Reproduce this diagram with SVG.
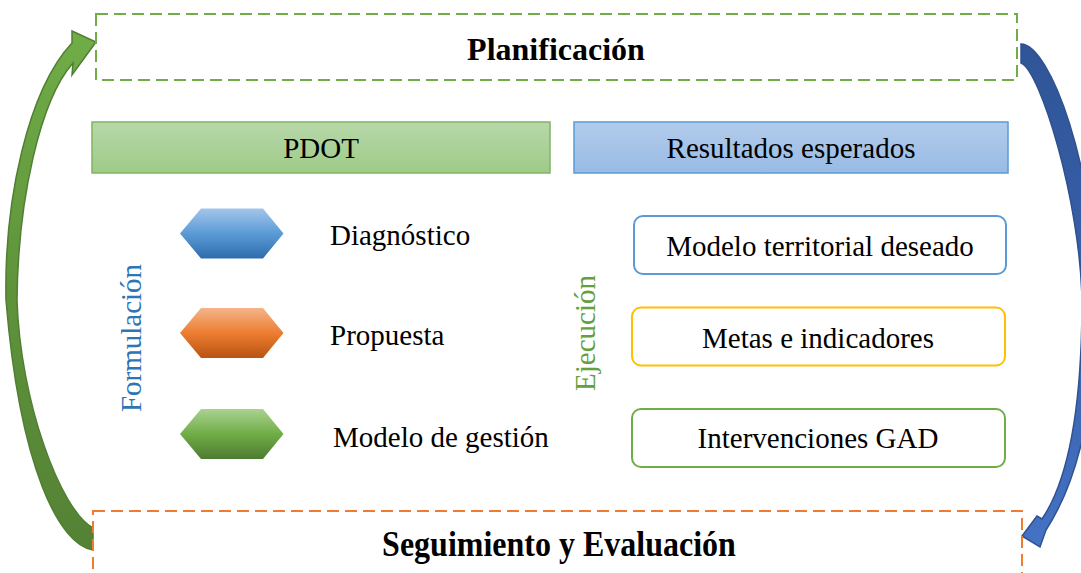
<svg xmlns="http://www.w3.org/2000/svg" width="1081" height="573" viewBox="0 0 1081 573">
<defs>
<linearGradient id="gPdot" x1="0" y1="0" x2="0" y2="1"><stop offset="0" stop-color="#B7D8A9"/><stop offset="1" stop-color="#9ECB87"/></linearGradient>
<linearGradient id="gRes" x1="0" y1="0" x2="0" y2="1"><stop offset="0" stop-color="#B3CBEB"/><stop offset="1" stop-color="#98BBE4"/></linearGradient>
<linearGradient id="hBlue" x1="0" y1="0" x2="0" y2="1"><stop offset="0" stop-color="#A3C5EA"/><stop offset="0.5" stop-color="#5B9BD5"/><stop offset="1" stop-color="#2E6CAD"/></linearGradient>
<linearGradient id="hOrange" x1="0" y1="0" x2="0" y2="1"><stop offset="0" stop-color="#F5B48A"/><stop offset="0.5" stop-color="#ED7D31"/><stop offset="1" stop-color="#B95412"/></linearGradient>
<linearGradient id="hGreen" x1="0" y1="0" x2="0" y2="1"><stop offset="0" stop-color="#AAD291"/><stop offset="0.5" stop-color="#70AD47"/><stop offset="1" stop-color="#4E7B31"/></linearGradient>
<linearGradient id="aGreen" x1="0" y1="0" x2="0" y2="1"><stop offset="0" stop-color="#70AD47"/><stop offset="0.5" stop-color="#5F933B"/><stop offset="1" stop-color="#548235"/></linearGradient>
<linearGradient id="aBlue" x1="0" y1="0" x2="0" y2="1"><stop offset="0" stop-color="#2F5597"/><stop offset="0.6" stop-color="#3B63AE"/><stop offset="1" stop-color="#4472C4"/></linearGradient>
</defs>
<style>
.title{font-family:"Liberation Serif","Times New Roman",serif;font-weight:bold;font-size:32px;fill:#000;text-anchor:middle}
.lbl{font-family:"Liberation Serif","Times New Roman",serif;font-size:29px;fill:#000}
.mid{text-anchor:middle}
.dashG{fill:none;stroke:#70AD47;stroke-width:2;stroke-dasharray:12 6}
.dashO{fill:none;stroke:#ED7D31;stroke-width:2;stroke-dasharray:12 6}
.rbox{fill:#fff;stroke-width:2}
</style>
<rect width="1081" height="573" fill="#fff"/>

<g id="connectors">
<path id="arrowGreen" d="M 93 550 C 60 545, 20 470, 6 300 C 4 200, 28 90, 72 43 L 72 31 L 96 42 L 72 75 L 73 63 C 40 100, 18 200, 17 300 C 20 400, 60 510, 93 528 Z" fill="url(#aGreen)" stroke="#507E32" stroke-width="1.5" stroke-linejoin="miter"/>
<path id="arrowBlue" d="M 1021 44 C 1050 44, 1096 170, 1096 300 C 1096 420, 1072 490, 1046 530 L 1040 547 L 1022 536 L 1037 516 L 1042 519 C 1065 485, 1082 420, 1082 300 C 1080 200, 1040 70, 1021 63 Z" fill="url(#aBlue)" stroke="#2F528F" stroke-width="1.5"/>
</g>

<g id="planificacion">
<rect x="96" y="14" width="921" height="66" class="dashG"/>
<text x="556" y="60" class="title">Planificación</text>
</g>

<g id="seguimiento">
<rect x="93" y="511" width="929" height="90" class="dashO"/>
<text x="559" y="556" class="title" transform="translate(559 556) scale(1 1.12) translate(-559 -556)">Seguimiento y Evaluación</text>
</g>

<g id="pdot">
<rect x="92" y="122" width="458" height="51" fill="url(#gPdot)" stroke="#82B366" stroke-width="1.5"/>
<text x="321" y="158" class="lbl mid">PDOT</text>
</g>

<g id="resultados">
<rect x="574" y="122" width="434" height="51" fill="url(#gRes)" stroke="#5B9BD5" stroke-width="1.5"/>
<text x="791" y="158" class="lbl mid">Resultados esperados</text>
</g>

<g id="formulacion">
<text transform="translate(141 338) rotate(-90)" class="lbl mid" style="fill:#2E75B6">Formulación</text>
</g>

<g id="ejecucion">
<text transform="translate(595 333) rotate(-90)" class="lbl mid" style="fill:#64A03E">Ejecución</text>
</g>

<g id="diagnostico">
<polygon points="180,233.5 201,208.5 263,208.5 283.5,233.5 263,258.5 201,258.5" fill="url(#hBlue)"/>
<text x="330" y="245" class="lbl">Diagnóstico</text>
</g>

<g id="propuesta">
<polygon points="180,333 201,308 263,308 283.5,333 263,358 201,358" fill="url(#hOrange)"/>
<text x="330" y="345" class="lbl">Propuesta</text>
</g>

<g id="gestion">
<polygon points="180,434 201,409 263,409 283.5,434 263,459 201,459" fill="url(#hGreen)"/>
<text x="333" y="447" class="lbl">Modelo de gestión</text>
</g>

<g id="modeloTerritorial">
<rect x="634" y="216" width="372" height="58" rx="9" class="rbox" stroke="#5B9BD5"/>
<text x="820" y="256" class="lbl mid">Modelo territorial deseado</text>
</g>

<g id="metas">
<rect x="632" y="307.5" width="373" height="58" rx="9" class="rbox" stroke="#FFC000"/>
<text x="818" y="348" class="lbl mid">Metas e indicadores</text>
</g>

<g id="intervenciones">
<rect x="632" y="409" width="373" height="58" rx="9" class="rbox" stroke="#70AD47"/>
<text x="818" y="448" class="lbl mid">Intervenciones GAD</text>
</g>
</svg>
